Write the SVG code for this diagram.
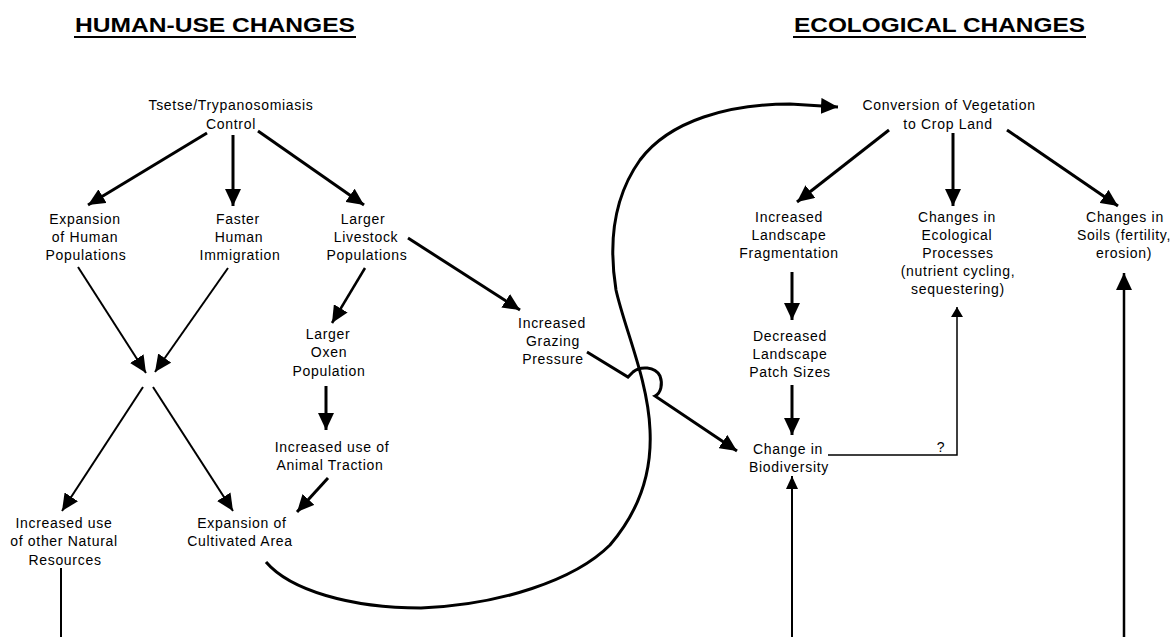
<svg xmlns="http://www.w3.org/2000/svg" width="1174" height="637" viewBox="0 0 1174 637">
<style>
  .t { font-family: "Liberation Sans", Arial, sans-serif; font-size: 14px; letter-spacing: 0.7px; fill: #000; text-anchor: middle; }
  .h { font-family: "Liberation Sans", Arial, sans-serif; font-size: 19.5px; font-weight: bold; fill: #000; }
  .ul { stroke: #000; stroke-width: 2; }
  .b { fill: none; stroke: #000; stroke-width: 3; }
  .m { fill: none; stroke: #000; stroke-width: 2.5; }
  .n { fill: none; stroke: #000; stroke-width: 2; }
  .f { fill: none; stroke: #000; stroke-width: 1.5; }
</style>
<defs>
  <marker id="ah" markerUnits="userSpaceOnUse" markerWidth="17" markerHeight="16" refX="17" refY="8" orient="auto" viewBox="0 0 17 16">
    <path d="M0,0 L17,8 L0,16 z" fill="#000"/>
  </marker>
  <marker id="am" markerUnits="userSpaceOnUse" markerWidth="13" markerHeight="12" refX="13" refY="6" orient="auto" viewBox="0 0 13 12">
    <path d="M0,0 L13,6 L0,12 z" fill="#000"/>
  </marker>
  <marker id="as" markerUnits="userSpaceOnUse" markerWidth="10" markerHeight="12" refX="10" refY="6" orient="auto" viewBox="0 0 10 12">
    <path d="M0,0 L10,6 L0,12 z" fill="#000"/>
  </marker>
</defs>
<rect width="1174" height="637" fill="#fff"/>

<g id="titles">
  <text class="h" x="75" y="32" textLength="280" lengthAdjust="spacingAndGlyphs">HUMAN-USE CHANGES</text>
  <line class="ul" x1="74" y1="37" x2="356" y2="37"/>
  <text class="h" x="794" y="32" textLength="291" lengthAdjust="spacingAndGlyphs">ECOLOGICAL CHANGES</text>
  <line class="ul" x1="793" y1="37" x2="1086" y2="37"/>
</g>

<g id="connectors">
  <path class="b" d="M207,133 L88,205" marker-end="url(#ah)"/>
  <path class="b" d="M233,135 L233,206" marker-end="url(#ah)"/>
  <path class="b" d="M258,131 L364,205" marker-end="url(#ah)"/>
  <path class="b" d="M408,238 L520,310" marker-end="url(#ah)"/>
  <path class="m" d="M365,268 L332,323" marker-end="url(#ah)"/>
  <path class="b" d="M326,386 L326,430" marker-end="url(#ah)"/>
  <path class="b" d="M328,478 L297,512" marker-end="url(#ah)"/>
  <path class="n" d="M78,267 L146,373" marker-end="url(#ah)"/>
  <path class="n" d="M228,268 L155,372" marker-end="url(#ah)"/>
  <path class="n" d="M143,387 L62,511" marker-end="url(#ah)"/>
  <path class="n" d="M153,387 L233,511" marker-end="url(#ah)"/>
  <path class="n" d="M61,568 L61,637"/>
  <path class="b" d="M266,562 C290,590 350,608 421,608 C500,605 575,580 610,545 C640,510 652,470 650,430 C648,380 625,330 616,290 C608,240 615,195 640,160 C670,120 730,104 790,104 L838,107" marker-end="url(#ah)"/>
  <path class="b" d="M587,352 L628,377 L633,372 C640,366 655,366 660,376 C663,384 661,393 655,396 L737,451" marker-end="url(#ah)"/>
  <path class="b" d="M889,130 L797,202" marker-end="url(#ah)"/>
  <path class="b" d="M953,133 L953,206" marker-end="url(#ah)"/>
  <path class="b" d="M1007,130 L1118,206" marker-end="url(#ah)"/>
  <path class="b" d="M792,272 L792,320" marker-end="url(#ah)"/>
  <path class="b" d="M792,385 L792,435" marker-end="url(#ah)"/>
  <path class="f" d="M828,455 L957,455 L957,307" marker-end="url(#as)"/>
  <path class="n" d="M792,637 L792,476" marker-end="url(#am)"/>
  <path class="m" d="M1124,637 L1124,273" marker-end="url(#ah)"/>
</g>

<g id="tsetse"><text class="t" x="231" y="110">Tsetse/Trypanosomiasis</text><text class="t" x="231" y="129">Control</text></g>
<g id="expansion-human"><text class="t" x="85" y="224">Expansion</text><text class="t" x="85" y="242">of Human</text><text class="t" x="86" y="260">Populations</text></g>
<g id="faster-immigration"><text class="t" x="238" y="224">Faster</text><text class="t" x="239" y="242">Human</text><text class="t" x="240" y="260">Immigration</text></g>
<g id="larger-livestock"><text class="t" x="363" y="224">Larger</text><text class="t" x="366" y="242">Livestock</text><text class="t" x="367" y="260">Populations</text></g>
<g id="grazing"><text class="t" x="552" y="328">Increased</text><text class="t" x="553" y="346">Grazing</text><text class="t" x="553" y="364">Pressure</text></g>
<g id="oxen"><text class="t" x="328" y="339">Larger</text><text class="t" x="329" y="357">Oxen</text><text class="t" x="329" y="376">Population</text></g>
<g id="traction"><text class="t" x="332" y="452">Increased use of</text><text class="t" x="330" y="470">Animal Traction</text></g>
<g id="natural-resources"><text class="t" x="64" y="528">Increased use</text><text class="t" x="64" y="546">of other Natural</text><text class="t" x="65" y="565">Resources</text></g>
<g id="cultivated"><text class="t" x="242" y="528">Expansion of</text><text class="t" x="240" y="546">Cultivated Area</text></g>
<g id="conversion"><text class="t" x="949" y="110">Conversion of Vegetation</text><text class="t" x="948" y="129">to Crop Land</text></g>
<g id="fragmentation"><text class="t" x="789" y="222">Increased</text><text class="t" x="789" y="240">Landscape</text><text class="t" x="789" y="258">Fragmentation</text></g>
<g id="patch"><text class="t" x="790" y="341">Decreased</text><text class="t" x="790" y="359">Landscape</text><text class="t" x="790" y="377">Patch Sizes</text></g>
<g id="biodiversity"><text class="t" x="788" y="454">Change in</text><text class="t" x="789" y="472">Biodiversity</text></g>
<g id="ecological"><text class="t" x="957" y="222">Changes in</text><text class="t" x="957" y="240">Ecological</text><text class="t" x="958" y="258">Processes</text><text class="t" x="958" y="276">(nutrient cycling,</text><text class="t" x="958" y="294">sequestering)</text></g>
<g id="soils"><text class="t" x="1125" y="222">Changes in</text><text class="t" x="1124" y="240">Soils (fertility,</text><text class="t" x="1124" y="258">erosion)</text></g>
<g id="question"><text class="t" x="941" y="452">?</text></g>
</svg>
